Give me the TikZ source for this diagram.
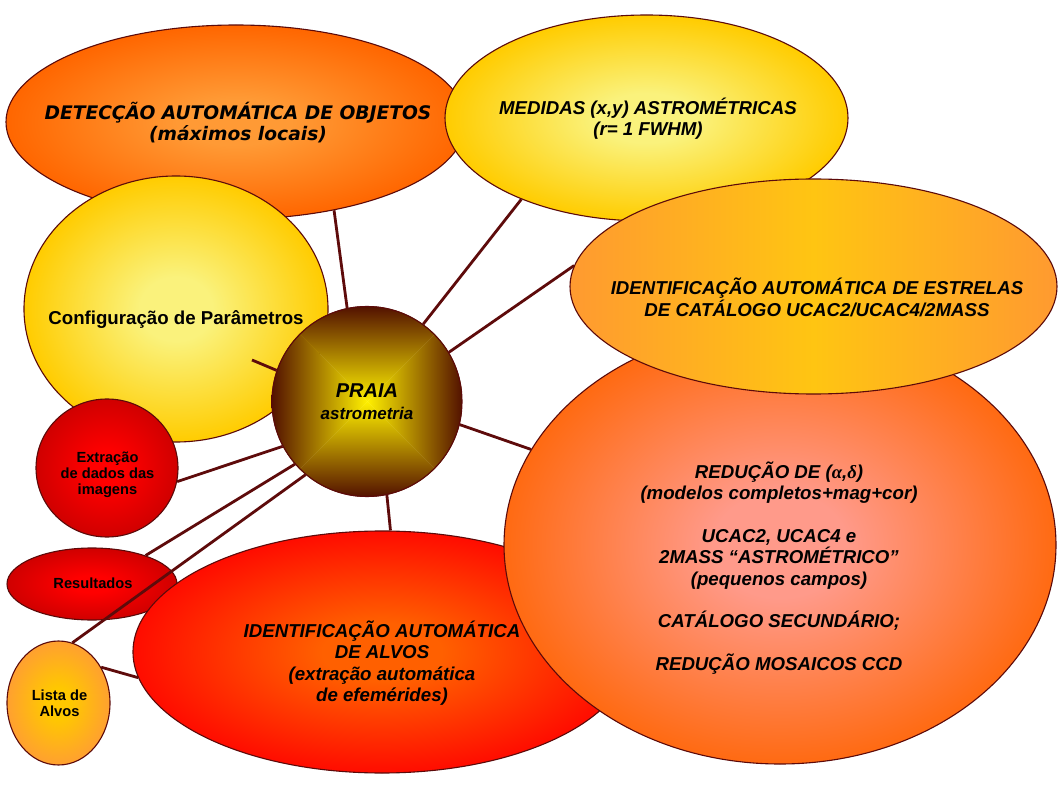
\documentclass[tikz,border=0pt]{standalone}
\usepackage{fontspec}
\setmainfont{Liberation Sans}
\newfontfamily\dejavu{DejaVu Sans}
\newfontfamily\lserif{Liberation Serif}
\usetikzlibrary{shapes.geometric}
\colorlet{scin}{white}
\colorlet{scout}{black}
\pgfdeclareradialshading[scin,scout]{soft}{\pgfpointorigin}{color(0bp)=(scin);color(6bp)=(scin);color(25bp)=(scout);color(50bp)=(scout)}
\definecolor{edge}{HTML}{5C0A0A}
\definecolor{lnk}{HTML}{5E0B0B}
\definecolor{detin}{HTML}{FF9A35}
\definecolor{detout}{HTML}{FF6600}
\definecolor{medin}{HTML}{FAF27C}
\definecolor{medout}{HTML}{FFCC00}
\definecolor{cfgin}{HTML}{FAF27C}
\definecolor{cfgout}{HTML}{FFCC00}
\definecolor{extin}{HTML}{FF0000}
\definecolor{extout}{HTML}{D00000}
\definecolor{alvin}{HTML}{FF6000}
\definecolor{alvout}{HTML}{FF0C00}
\definecolor{redin}{HTML}{FF9A8A}
\definecolor{redout}{HTML}{FF6A12}
\definecolor{estin}{HTML}{FFC512}
\definecolor{estout}{HTML}{FF9A30}
\definecolor{lstin}{HTML}{FFC800}
\definecolor{lstout}{HTML}{FFA030}
\definecolor{pdark}{HTML}{4A0600}
\definecolor{pyel}{HTML}{FFF000}
\tikzset{
  bub/.style={ellipse, draw=edge, line width=1.1pt, inner sep=0pt, shade, shading=soft},
  sh/.style 2 args={/utils/exec={\colorlet{scin}{#1}\colorlet{scout}{#2}}},
  conn/.style={draw=lnk, line width=2.8pt},
  bigt/.style={inner sep=0pt, align=center, font=\bfseries\itshape\fontsize{18.67pt}{21.3pt}\selectfont},
  cfgfont/.style={inner sep=0pt, align=center, font=\bfseries\fontsize{18.67pt}{21.3pt}\selectfont},
  smallt/.style={inner sep=0pt, align=center, font=\bfseries\fontsize{14.67pt}{16pt}\selectfont},
}
\begin{document}
\begin{tikzpicture}[x=1pt, y=-1pt]
\fill[white] (0,0) rectangle (1058,794);
\useasboundingbox (0,0) rectangle (1058,794);

% DETECCAO
\node[bub, sh={detin}{detout}, minimum width=460pt, minimum height=194pt] (det) at (236,122) {};
\node[bigt, font=\dejavu\bfseries\itshape\fontsize{18.67pt}{21.3pt}\selectfont] (dett) at (238,122.5) {DETECÇÃO AUTOMÁTICA DE OBJETOS\\(máximos locais)};

% MEDIDAS
\node[bub, sh={medin}{medout}, minimum width=403pt, minimum height=206pt] (med) at (646.5,118) {};
\node[bigt] (medt) at (648,119) {MEDIDAS (x,y) ASTROMÉTRICAS\\(r= 1 FWHM)};

% Configuracao
\node[bub, sh={cfgin}{cfgout}, minimum width=304pt, minimum height=266pt] (cfg) at (176,309) {};
\node[cfgfont] (cfgt) at (176,320) {Configuração de Parâmetros};

% Extracao
\node[bub, sh={extin}{extout}, minimum width=142pt, minimum height=138pt] (ext) at (107,468) {};
\node[smallt] (extt) at (107.5,475) {Extração\\de dados das\\imagens};

% Resultados
\node[bub, sh={extin}{extout}, minimum width=170pt, minimum height=72pt] (res) at (92,584) {};
\node[smallt] (rest) at (93,583) {Resultados};

% Alvos
\node[bub, sh={alvin}{alvout}, minimum width=498pt, minimum height=242pt] (alv) at (382,652) {};
\node[bigt] (alvt) at (382,663) {IDENTIFICAÇÃO AUTOMÁTICA\\DE ALVOS\\(extração automática\\de efemérides)};

% Reducao
\node[bub, sh={redin}{redout}, minimum width=552pt, minimum height=438pt] (red) at (780,545) {};
\node[bigt] (redt) at (779,568) {REDUÇÃO DE ({\lserif α},{\lserif δ})\\(modelos completos+mag+cor)\\[21.3pt]UCAC2, UCAC4 e\\2MASS “ASTROMÉTRICO”\\(pequenos campos)\\[21.3pt]CATÁLOGO SECUNDÁRIO;\\[21.3pt]REDUÇÃO MOSAICOS CCD};

% Estrelas
\node[bub, left color=estout, right color=estout, middle color=estin, minimum width=487pt, minimum height=215pt] (est) at (813.5,286.5) {};
\node[bigt] (estt) at (817,297.5) {IDENTIFICAÇÃO AUTOMÁTICA DE ESTRELAS\\DE CATÁLOGO UCAC2/UCAC4/2MASS};

% Lista
\node[bub, sh={lstin}{lstout}, minimum width=103pt, minimum height=124pt] (lst) at (58.5,703) {};
\node[smallt] (lstt) at (59.5,703) {Lista de\\Alvos};

% PRAIA shading
\begin{scope}
\clip (367,401.5) circle (95.5);
\shade[top color=pdark, bottom color=pyel] (367,401.5) -- (267,301.5) -- (467,301.5) -- cycle;
\shade[bottom color=pdark, top color=pyel] (367,401.5) -- (267,501.5) -- (467,501.5) -- cycle;
\shade[left color=pdark, right color=pyel] (367,401.5) -- (267,301.5) -- (267,501.5) -- cycle;
\shade[right color=pdark, left color=pyel] (367,401.5) -- (467,301.5) -- (467,501.5) -- cycle;
\end{scope}
\node[circle, minimum size=190pt, inner sep=0pt, draw=edge, line width=1.1pt, align=center,
      font=\bfseries\itshape\fontsize{20pt}{24pt}\selectfont] (praia) at (367,401.5)
      {PRAIA\\[-2pt]{\fontsize{17pt}{20pt}\selectfont astrometria}};

% connectors
\coordinate (cfgend) at (252,360);
\draw[conn] (det.-42) -- (praia.102);
\draw[conn] (med.-147.8) -- (praia.54.6);
\draw[conn] (est.175.9) -- (praia.31);
\draw[conn] (cfgend) -- (praia.161);
\draw[conn] (red.159.8) -- (praia.-14.8);
\draw[conn] (ext.-11) -- (praia.208);
\draw[conn] (res.28.7) -- (praia.221.6);
\draw[conn] (lst.77) -- (praia.230.4);
\draw[conn] (praia.-78) -- (alv.86.7);
\draw[conn] (lst.40) -- (alv.186.4);
\end{tikzpicture}
\end{document}
